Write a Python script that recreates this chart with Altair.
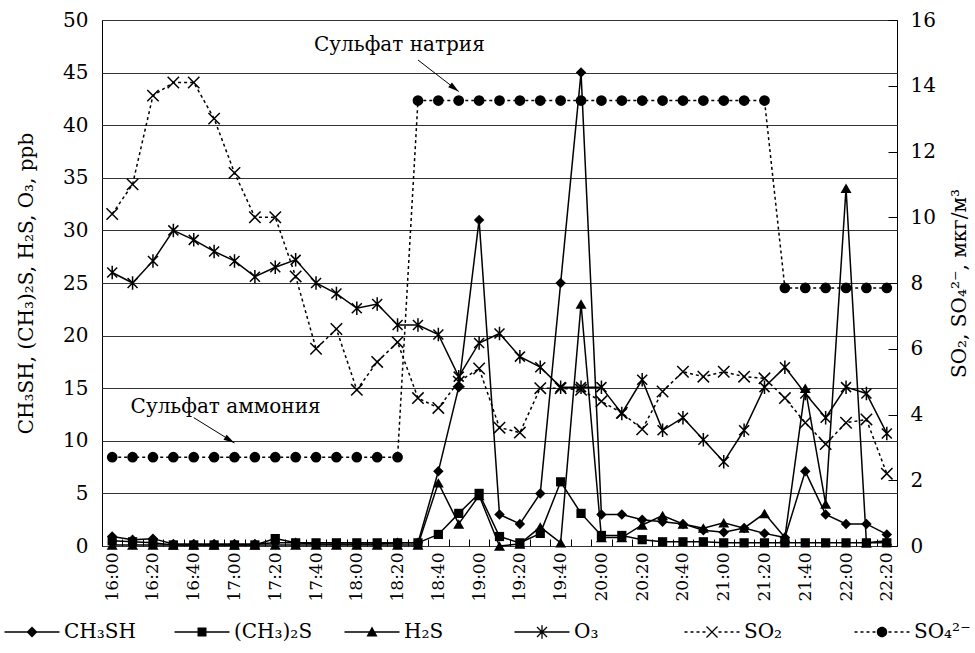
import json
import math
import altair as alt
import pandas as pd

FONT = "DejaVu Serif"

times = ["16:00", "16:10", "16:20", "16:30", "16:40", "16:50",
         "17:00", "17:10", "17:20", "17:30", "17:40", "17:50",
         "18:00", "18:10", "18:20", "18:30", "18:40", "18:50",
         "19:00", "19:10", "19:20", "19:30", "19:40", "19:50",
         "20:00", "20:10", "20:20", "20:30", "20:40", "20:50",
         "21:00", "21:10", "21:20", "21:30", "21:40", "21:50",
         "22:00", "22:10", "22:20"]
label_times = ["16:00", "16:20", "16:40", "17:00", "17:20", "17:40", "18:00",
               "18:20", "18:40", "19:00", "19:20", "19:40", "20:00", "20:20",
               "20:40", "21:00", "21:20", "21:40", "22:00", "22:20"]

# left axis (ppb)
ch3sh = [0.9, 0.6, 0.7, 0.2, 0.2, 0.2, 0.2, 0.2, 0.3, 0.3, 0.2, 0.2, 0.2, 0.2, 0.3, 0.3,
         7.1, 15.1, 31.0, 3.0, 2.1, 5.0, 25.0, 45.0, 3.0, 3.0, 2.5, 2.3, 2.1, 1.5, 1.3,
         1.7, 1.2, 0.8, 7.1, 3.0, 2.1, 2.1, 1.1]
dms = [0.5, 0.4, 0.3, 0.1, 0.1, 0.1, 0.1, 0.1, 0.7, 0.3, 0.3, 0.3, 0.3, 0.3, 0.3, 0.3,
       1.1, 3.1, 5.0, 0.9, 0.3, 1.2, 6.1, 3.1, 1.0, 1.0, 0.6, 0.4, 0.4, 0.4, 0.3,
       0.3, 0.3, 0.3, 0.3, 0.3, 0.3, 0.3, 0.3]
h2s = [0.1, 0.1, 0.1, 0.1, 0.1, 0.1, 0.1, 0.1, 0.1, 0.1, 0.1, 0.1, 0.1, 0.1, 0.1, 0.1,
       6.0, 2.1, 4.8, 0.0, 0.2, 1.8, 0.3, 23.0, 0.8, 0.8, 2.0, 2.9, 2.1, 1.7, 2.2,
       1.7, 3.1, 0.8, 15.0, 4.0, 34.0, 0.3, 0.5]
o3 = [26.0, 25.0, 27.1, 30.0, 29.1, 28.0, 27.1, 25.6, 26.5, 27.2, 25.0, 24.0, 22.6, 23.0,
      21.0, 21.0, 20.1, 16.1, 19.3, 20.2, 18.0, 17.0, 15.1, 15.1, 15.1, 12.6, 15.8,
      11.0, 12.2, 10.1, 8.0, 11.0, 15.1, 17.0, 14.5, 12.2, 15.1, 14.5, 10.7]
# right axis (мкг/м3)
so2 = [10.1, 11.0, 13.7, 14.1, 14.1, 13.0, 11.35, 10.0, 10.0, 8.2, 6.0, 6.6, 4.75, 5.6,
       6.2, 4.5, 4.2, 5.0, 5.4, 3.6, 3.45, 4.8, 4.8, 4.75, 4.4, 4.05, 3.55, 4.7, 5.3,
       5.15, 5.3, 5.15, 5.1, 4.5, 3.75, 3.1, 3.75, 3.85, 2.2]
so4 = [2.7, 2.7, 2.7, 2.7, 2.7, 2.7, 2.7, 2.7, 2.7, 2.7, 2.7, 2.7, 2.7, 2.7, 2.7,
       13.55, 13.55, 13.55, 13.55, 13.55, 13.55, 13.55, 13.55, 13.55, 13.55, 13.55,
       13.55, 13.55, 13.55, 13.55, 13.55, 13.55, 13.55,
       7.85, 7.85, 7.85, 7.85, 7.85, 7.85]

left_names = ["CH₃SH", "(CH₃)₂S", "H₂S", "O₃"]
right_names = ["SO₂", "SO₄²⁻"]

# annotations
ann_labels = ["Сульфат натрия", "Сульфат аммония"]
ann_t = ["17:40", "16:10"]
ann_v = [47.6, 13.2]
arrow_id = ["a1", "a1", "a2", "a2"]
arrow_t = ["18:30", "18:50", "16:40", "17:00"]
arrow_v = [46.2, 43.2, 12.2, 9.8]
head_t = ["18:50", "17:00"]
head_v = [43.2, 9.8]
head_angle = [128, 121]

left_df = pd.DataFrame([{"t": t, "v": v, "s": n}
                        for n, vals in zip(left_names, [ch3sh, dms, h2s, o3])
                        for t, v in zip(times, vals)])
right_df = pd.DataFrame([{"t": t, "r": v, "s": n}
                         for n, vals in zip(right_names, [so2, so4])
                         for t, v in zip(times, vals)])
ann_df = pd.DataFrame({"t": ann_t, "v": ann_v, "label": ann_labels})
arrow_df = pd.DataFrame({"id": arrow_id, "t": arrow_t, "v": arrow_v})
head_df = pd.DataFrame({"t": head_t, "v": head_v, "ang": head_angle})

X_PATH = "M-1,-1L1,1M1,-1L-1,1"
STAR_PATH = "M-1,-1L1,1M1,-1L-1,1M0,-1.35V1.35"
HEAD_PATH = "M0,0L-0.6,2.2L0.6,2.2Z"

markers = {
    "CH₃SH": dict(shape="diamond", size=110, filled=True),
    "(CH₃)₂S": dict(shape="square", size=85, filled=True),
    "H₂S": dict(shape="triangle-up", size=120, filled=True),
    "O₃": dict(shape=STAR_PATH, size=100, filled=False),
    "SO₂": dict(shape=X_PATH, size=130, filled=False),
    "SO₄²⁻": dict(shape="circle", size=115, filled=True),
}


# legend symbols drawn as filled outlines (units of 5 px), all clockwise
def bar(x1, y1, x2, y2, t=0.15):
    dx, dy = x2 - x1, y2 - y1
    ln = math.hypot(dx, dy)
    nx, ny = dy / ln * t, -dx / ln * t
    pts = [(x1 + nx, y1 + ny), (x2 + nx, y2 + ny), (x2 - nx, y2 - ny), (x1 - nx, y1 - ny)]
    return "M" + "L".join(f"{px:.3f},{py:.3f}" for px, py in pts) + "Z"


solid = bar(-5.5, 0, 5.5, 0)
dotted = "".join(bar(a, 0, a + 0.6, 0) for a in [-5.5, -4.3, -3.1, -1.9, 1.3, 2.5, 3.7, 4.9])
xmark = bar(-1.1, -1.1, 1.1, 1.1, 0.13) + bar(1.1, -1.1, -1.1, 1.1, 0.13)
star = bar(-1.0, -1.0, 1.0, 1.0, 0.13) + bar(1.0, -1.0, -1.0, 1.0, 0.13) + bar(0, -1.35, 0, 1.35, 0.13)
legend_paths = [
    solid + "M0,-1.1L1.1,0L0,1.1L-1.1,0Z",
    solid + "M-0.9,-0.9H0.9V0.9H-0.9Z",
    solid + "M0,-1.1L1.1,0.9L-1.1,0.9Z",
    solid + star,
    dotted + xmark,
    dotted + "M-1.05,0A1.05,1.05,0,1,1,1.05,0A1.05,1.05,0,1,1,-1.05,0Z",
]
legend_names = left_names + right_names

label_expr = "indexof(" + json.dumps(label_times) + ", datum.value) >= 0 ? datum.value : ''"

x_enc = alt.X(
    "t:N",
    scale=alt.Scale(type="band", domain=times, paddingInner=0, paddingOuter=0),
    bandPosition=0.5,
    axis=alt.Axis(title=None, labelAngle=-90, labelExpr=label_expr, labelOverlap=False,
                  tickBand="extent", tickSize=7, tickColor="black", tickWidth=1,
                  offset=-7, domain=False, labelPadding=6, grid=False,
                  labelFontSize=17),
)

y_left = alt.Y(
    "v:Q",
    scale=alt.Scale(domain=[0, 50], nice=False),
    axis=alt.Axis(values=list(range(0, 55, 5)), title="CH₃SH, (CH₃)₂S, H₂S, O₃, ppb",
                  grid=True, gridColor="#333333", gridWidth=1, domain=False,
                  ticks=False, tickSize=0, labelPadding=14, labelFontSize=20,
                  titleAngle=-90, titleX=-86, titleY=263, titleBaseline="top",
                  titleAlign="center"),
)
y_right = alt.Y(
    "r:Q",
    scale=alt.Scale(domain=[0, 16], nice=False),
    axis=alt.Axis(orient="right", values=list(range(0, 18, 2)), title="SO₂, SO₄²⁻, мкг/м³",
                  grid=False, domain=False, offset=-9, tickSize=9, tickColor="black",
                  labelPadding=13, labelFontSize=20,
                  titleAngle=-90, titleX=61, titleY=263, titleBaseline="top",
                  titleAlign="center"),
)


def series_layers(df, name, y_enc, dashed):
    base = alt.Chart(df).transform_filter(alt.datum.s == name)
    if dashed:
        line = base.mark_line(color="black", strokeWidth=1.5, strokeDash=[3, 3])
    else:
        line = base.mark_line(color="black", strokeWidth=1.5)
    line = line.encode(x=x_enc, y=y_enc)
    m = markers[name]
    pts = base.mark_point(shape=m["shape"], size=m["size"], filled=m["filled"],
                          color="black", opacity=1, strokeWidth=1.5).encode(x=x_enc, y=y_enc)
    return [line, pts]


left_layers = []
for n in left_names:
    left_layers += series_layers(left_df, n, y_left, False)

text_layer = alt.Chart(ann_df).mark_text(font=FONT, fontSize=20, color="black",
                                         align="left", baseline="middle", dx=-2).encode(
    x=x_enc, y=y_left, text="label:N")
arrow_layer = alt.Chart(arrow_df).mark_line(color="black", strokeWidth=1).encode(
    x=x_enc, y=y_left, detail="id:N")
head_layer = alt.Chart(head_df).mark_point(shape=HEAD_PATH, size=100, filled=True,
                                           color="black", opacity=1).encode(
    x=x_enc, y=y_left, angle=alt.Angle("ang:Q", scale=None))

legend_layer = alt.Chart(pd.DataFrame({"s": legend_names})).mark_point(
    filled=True, fill="black", stroke="black", strokeWidth=1.5, opacity=1
).encode(
    shape=alt.Shape("s:N", scale=alt.Scale(domain=legend_names, range=legend_paths),
                    legend=alt.Legend(title=None, orient="none", legendX=-102, legendY=602,
                                      direction="horizontal", symbolSize=100,
                                      symbolOffset=22, labelOffset=22, columnPadding=27,
                                      gridAlign="all",
                                      symbolFillColor="black", symbolStrokeColor="black",
                                      symbolStrokeWidth=1.5, symbolOpacity=1,
                                      labelFont=FONT, labelFontSize=20, labelColor="black",
                                      labelLimit=300))
).transform_filter("false")

right_layers = []
for n in right_names:
    right_layers += series_layers(right_df, n, y_right, True)

left_group = alt.layer(*left_layers, text_layer, arrow_layer, head_layer, legend_layer)
right_group = alt.layer(*right_layers)

chart = alt.layer(left_group, right_group).resolve_scale(y="independent").properties(
    width=795, height=526,
    autosize=alt.AutoSizeParams(type="none"),
    padding={"left": 102, "top": 20, "right": 78, "bottom": 107},
).configure(font=FONT).configure_view(stroke="black", strokeWidth=1).configure_axis(
    labelFont=FONT, titleFont=FONT, labelColor="black", titleColor="black",
    titleFontSize=20, titleFontWeight="normal", labelFontSize=20,
)

chart.save("out.html", embed_options={"renderer": "svg", "actions": False})
